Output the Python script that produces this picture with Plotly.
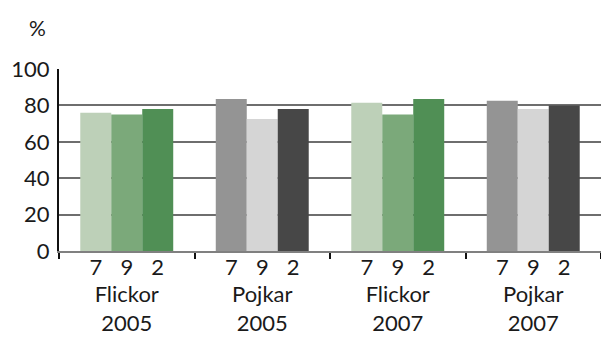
import plotly.graph_objects as go

groups = ["Flickor<br>2005", "Pojkar<br>2005", "Flickor<br>2007", "Pojkar<br>2007"]
grades = ["7", "9", "2"]
grade7 = [76, 83.5, 81.5, 82.5]
grade9 = [75, 72.5, 75, 78]
grade2 = [78, 78, 83.5, 80]
y_ticks = [0, 20, 40, 60, 80, 100]

green = ["#bdd0b8", "#7ba97a", "#508f55"]
gray = ["#949494", "#d5d5d5", "#474747"]
palettes = [green, gray, green, gray]

FONT = "Lato"
FS = 22
BARGAP = 0.314

fig = go.Figure()
for k, vals in enumerate([grade7, grade9, grade2]):
    fig.add_trace(go.Bar(
        x=groups, y=vals, name=grades[k],
        marker=dict(color=[p[k] for p in palettes], line=dict(width=0)),
        showlegend=False,
    ))

# sub-label axis: positions derived from the grouped-bar layout
bw = (1 - BARGAP) / 3
sub_vals, sub_text = [], []
for i in range(len(groups)):
    for k in range(3):
        sub_vals.append(i + (k - 1) * bw)
        sub_text.append(grades[k])

fig.add_trace(go.Scatter(x=sub_vals, y=[None] * len(sub_vals), xaxis="x2",
                         showlegend=False, hoverinfo="skip"))

fig.update_layout(
    width=601, height=341,
    margin=dict(l=59, r=0, t=69, b=90),
    paper_bgcolor="white", plot_bgcolor="white",
    barmode="group", bargap=BARGAP, bargroupgap=0,
    font=dict(family=FONT, size=FS, color="#1a1a1a"),
    xaxis=dict(
        type="category", range=[-0.5, 3.5], automargin=False,
        showline=True, linecolor="#808080", linewidth=2,
        ticks="outside", tickson="boundaries", ticklen=6, tickcolor="#111", tickwidth=2,
        showgrid=False, ticklabelstandoff=23,
        tickfont=dict(family=FONT, size=FS),
    ),
    xaxis2=dict(
        overlaying="x", anchor="y", side="bottom", range=[-0.5, 3.5], automargin=False,
        tickvals=sub_vals, ticktext=sub_text, showgrid=False, showline=False,
        zeroline=False, ticks="", tickfont=dict(family=FONT, size=FS),
        ticklabelstandoff=1,
    ),
    yaxis=dict(
        range=[0, 100], tickvals=y_ticks, showgrid=True, gridcolor="#6e6e6e",
        gridwidth=2, showline=True, linecolor="#111", linewidth=2, automargin=False,
        zeroline=False, ticks="", ticklabelstandoff=3,
        tickfont=dict(family=FONT, size=FS),
    ),
    annotations=[dict(text="%", xref="paper", yref="paper", x=-0.04, y=1.23,
                      xanchor="center", yanchor="middle", showarrow=False,
                      font=dict(family=FONT, size=FS - 1))],
)

fig.write_html("out.html", config={"displayModeBar": False},
               post_script="document.body.style.margin='0';document.body.style.padding='0';")
